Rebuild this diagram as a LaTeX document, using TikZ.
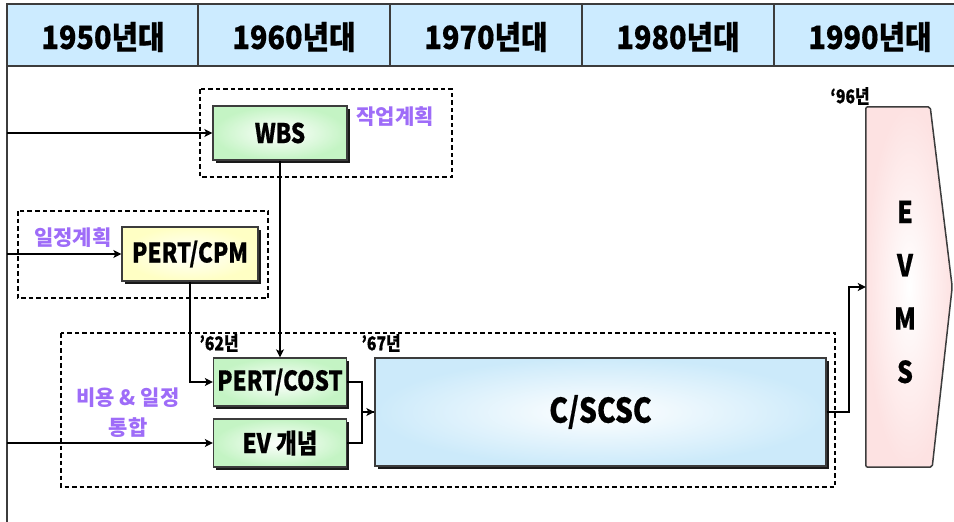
\documentclass[tikz,border=0pt]{standalone}
\usepackage{fontspec}
\newfontfamily\kr{Noto Sans CJK KR}
\newfontfamily\krc{Noto Sans CJK KR}[FakeStretch=0.83,FakeBold=0.5]
\newfontfamily\krh{Noto Sans CJK KR}[FakeStretch=0.9,FakeBold=0.5]
\usetikzlibrary{shadows,arrows.meta,calc}

\definecolor{hdrblue}{RGB}{204,235,255}
\definecolor{edgegray}{RGB}{60,60,60}
\definecolor{boxgreen}{RGB}{196,244,196}
\definecolor{boxyellow}{RGB}{255,255,196}
\definecolor{boxblue}{RGB}{204,234,250}
\definecolor{boxpink}{RGB}{253,226,226}
\definecolor{labpurple}{RGB}{158,108,248}

\begin{document}
\begin{tikzpicture}[x=1pt,y=-1pt,
  hdrtext/.style={font=\krh\bfseries\fontsize{32pt}{34pt}\selectfont, inner sep=0pt},
  boxbase/.style={draw=edgegray, line width=1.3pt, inner sep=0pt,
    drop shadow={shadow xshift=2.5pt, shadow yshift=-2.5pt, fill=black, opacity=0.9},
    font=\krc\bfseries\fontsize{27pt}{29pt}\selectfont},
  greenbox/.style={boxbase, inner color=white, outer color=boxgreen},
  yellowbox/.style={boxbase, inner color=white, outer color=boxyellow},
  bluebox/.style={boxbase, inner color=white, outer color=boxblue},
  grp/.style={draw=black, line width=1.5pt, dash pattern=on 4.5pt off 3pt},
  lab/.style={text=labpurple, inner sep=0pt, font=\kr\bfseries\fontsize{21pt}{30pt}\selectfont},
  yr/.style={inner sep=0pt, font=\krc\bfseries\fontsize{19pt}{21pt}\selectfont},
  wire/.style={draw=black, line width=2pt},
  conn/.style={wire, -{Stealth[length=8pt,width=8pt,inset=2pt]}}
]
\useasboundingbox (0,0) rectangle (954,522);

% header strip with the decades
\fill[hdrblue] (7,4) rectangle (954,66);
\draw[edgegray, line width=1.5pt] (954,4) -- (7,4) -- (7,522);
\draw[edgegray, line width=1.5pt] (7,66) -- (954,66);
\foreach \x in {198,390,582,774}
  \draw[edgegray, line width=1.2pt] (\x,4) -- (\x,66);
\node[hdrtext] (h1) at (103,37) {1950년대};
\node[hdrtext] (h2) at (294,37) {1960년대};
\node[hdrtext] (h3) at (486,37) {1970년대};
\node[hdrtext] (h4) at (678,37) {1980년대};
\node[hdrtext] (h5) at (870,37) {1990년대};

% dashed groupings
\draw[grp] (200,89) rectangle (452,177);
\draw[grp] (18,211) rectangle (268,298);
\draw[grp] (61,333) rectangle (835,487);

% boxes
\node[greenbox, minimum width=134pt, minimum height=54pt] (wbs) at (280,133) {WBS};
\node[yellowbox, minimum width=136pt, minimum height=54pt] (cpm) at (190,254) {PERT/CPM};
\node[greenbox, minimum width=133pt, minimum height=48pt] (pcost) at (280,382) {PERT/COST};
\node[greenbox, minimum width=133pt, minimum height=48pt] (ev) at (280,443) {EV 개념};
\node[bluebox, minimum width=451pt, minimum height=108pt,
      font=\krc\bfseries\fontsize{34pt}{36pt}\selectfont] (cscs) at (600.5,412) {C/SCSC};

% EVMS arrow-shaped block
\node[minimum width=86pt, minimum height=360pt, inner sep=0pt] (evms) at (909,287) {};
\draw[edgegray, line width=1.5pt, rounded corners=2pt, inner color=white, outer color=boxpink, shading=radial]
  (evms.north west) -- ($(evms.north east)+(-22,0)$) -- (evms.east)
  -- ($(evms.south east)+(-20,0)$) -- (evms.south west) -- cycle;
\node[align=center, inner sep=0pt, font=\krc\bfseries\fontsize{30pt}{53.3pt}\selectfont]
  (evmstext) at (905,292) {E\\V\\M\\S};

% labels
\node[lab] (lwbs) at (395,117) {작업계획};
\node[lab] (lcpm) at (73,238) {일정계획};
\node[lab, align=center] (lint) at (128,413) {비용 \& 일정\\통합};
\node[yr] (y62) at (219,343) {’62년};
\node[yr] (y67) at (381,343) {’67년};
\node[yr] (y96) at (850,96) {‘96년};

% connectors
\coordinate (s1) at (7,133);
\coordinate (s2) at (7,254);
\coordinate (s3) at (7,443);
\draw[conn] (s1) -- (wbs.west);
\draw[conn] (s2) -- (cpm.west);
\draw[conn] (s3) -- (ev.west);
\draw[conn] (wbs.south) -- (pcost.north);
\draw[conn] (cpm.south) |- (pcost.west);
\draw[conn] (pcost.east) -- ++(15,0) |- (cscs.west);
\draw[wire] (ev.east) -- ++(15,0) |- (cscs.west);
\draw[conn] (cscs.east) -- ++(22,0) |- (evms.west);
\end{tikzpicture}
\end{document}
